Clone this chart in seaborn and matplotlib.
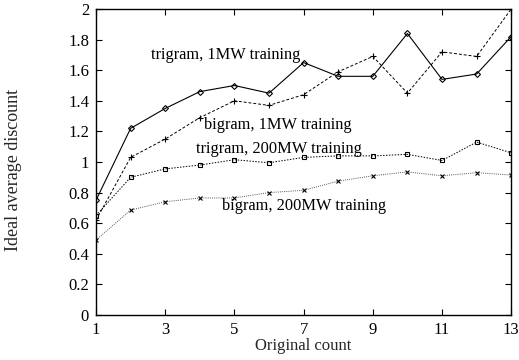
import matplotlib
matplotlib.use("Agg")
import matplotlib.pyplot as plt
import seaborn as sns
import pandas as pd

counts = list(range(1, 14))
trigram_1mw = [0.75, 1.22, 1.35, 1.46, 1.50, 1.45, 1.65, 1.56, 1.56, 1.84, 1.54, 1.575, 1.82]
bigram_1mw = [0.62, 1.03, 1.15, 1.29, 1.40, 1.37, 1.44, 1.59, 1.69, 1.45, 1.72, 1.69, 2.0]
trigram_200mw = [0.65, 0.90, 0.955, 0.98, 1.015, 0.995, 1.03, 1.04, 1.04, 1.05, 1.01, 1.13, 1.06]
bigram_200mw = [0.49, 0.686, 0.74, 0.765, 0.765, 0.80, 0.815, 0.875, 0.91, 0.935, 0.91, 0.93, 0.915]
series_labels = ["trigram, 1MW training", "bigram, 1MW training",
                 "trigram, 200MW training", "bigram, 200MW training"]

sns.set_theme(style="ticks")
plt.rcParams["font.family"] = ["Liberation Serif", "DejaVu Serif"]

fig = plt.figure(figsize=(5.19, 3.6), dpi=100)
ax = fig.add_axes([0.185, 0.125, 0.80, 0.85])

styles = [
    dict(color="black", linestyle="-", marker="D", ms=3.0, lw=0.8),
    dict(color="black", linestyle=(0, (3, 2)), marker="+", ms=4.5, lw=0.7),
    dict(color="black", linestyle=(0, (1.5, 1.5)), marker="s", ms=3.5, lw=0.7),
    dict(color="#555555", linestyle=(0, (1, 1.2)), marker="x", ms=3.5, lw=0.7),
]
all_series = [trigram_1mw, bigram_1mw, trigram_200mw, bigram_200mw]
for vals, st in zip(all_series, styles):
    df = pd.DataFrame({"count": counts, "discount": vals})
    sns.lineplot(data=df, x="count", y="discount", ax=ax, color=st["color"],
                 linestyle=st["linestyle"], linewidth=st["lw"],
                 marker=st["marker"], markersize=st["ms"],
                 markerfacecolor="none" if st["marker"] in ("D", "s") else st["color"],
                 markeredgecolor="black", markeredgewidth=0.8)

# series annotations placed beside each curve
label_pos = [(2.58, 1.70), (4.12, 1.24), (3.89, 1.085), (4.64, 0.71)]
for text, (lx, ly) in zip(series_labels, label_pos):
    ax.text(lx, ly, text, fontsize=11.8, va="center", ha="left", color="black")

ax.set_xlim(1, 13)
ax.set_ylim(0, 2)
ax.set_xticks(range(1, 14, 2))
ax.set_yticks([0, 0.2, 0.4, 0.6, 0.8, 1, 1.2, 1.4, 1.6, 1.8, 2])
ax.set_yticklabels(["0", "0.2", "0.4", "0.6", "0.8", "1", "1.2", "1.4", "1.6", "1.8", "2"])
ax.tick_params(direction="in", top=True, right=True, length=4, width=0.8,
               labelsize=12, colors="black", pad=5)
for sp in ax.spines.values():
    sp.set_visible(True)
    sp.set_linewidth(1.0)
    sp.set_color("black")
ax.set_xlabel("Original count", fontsize=12, labelpad=0)
ax.set_ylabel("Ideal average discount", fontsize=13)
ax.yaxis.set_label_coords(-0.178, 0.474)

fig.savefig("out.png", dpi=100)
